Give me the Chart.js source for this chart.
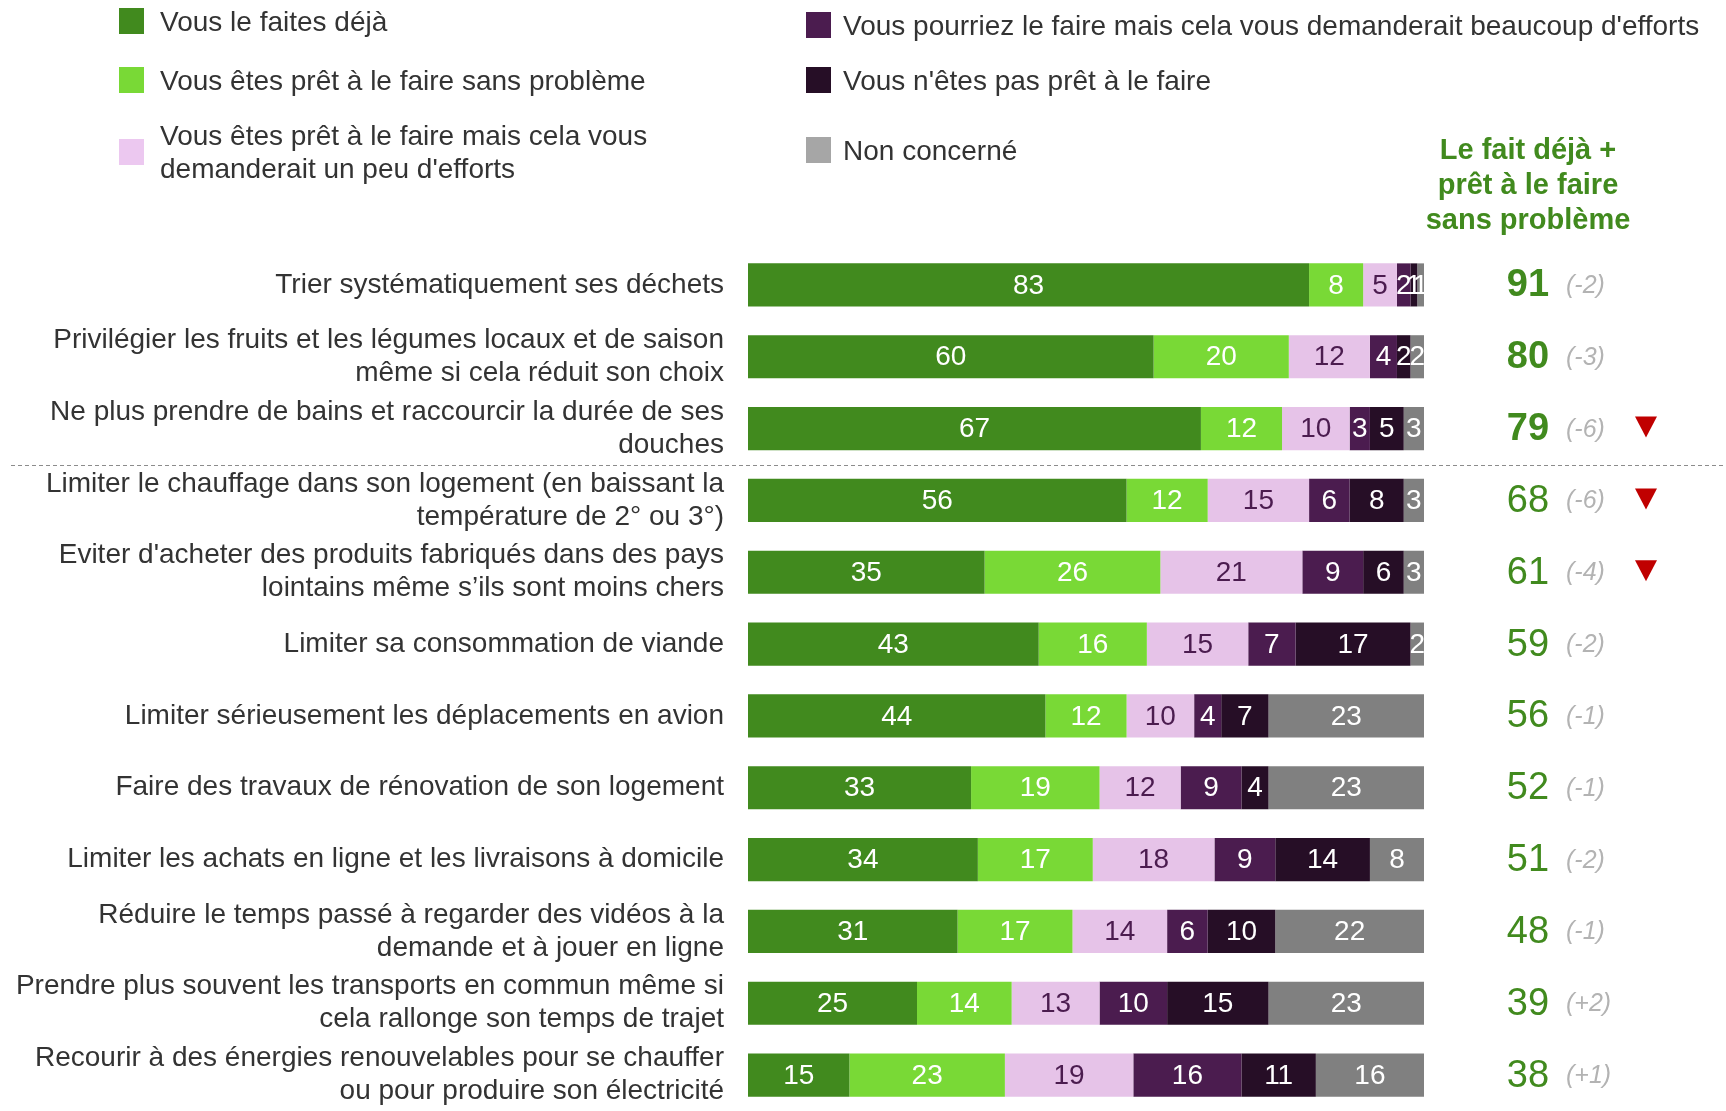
<!DOCTYPE html>
<html>
<head>
<meta charset="utf-8">
<script src="https://cdn.jsdelivr.net/npm/chart.js@4/dist/chart.umd.min.js"></script>
<style>
  html, body { margin: 0; padding: 0; background: #fff; }
  #wrap { position: relative; width: 1726px; height: 1111px; }
</style>
</head>
<body>
<div id="wrap"><canvas id="chart"></canvas></div>
<script>
// Categories (left labels)
const actions = [
    'Trier systématiquement ses déchets',
    ['Privilégier les fruits et les légumes locaux et de saison', 'même si cela réduit son choix'],
    ['Ne plus prendre de bains et raccourcir la durée de ses', 'douches'],
    ['Limiter le chauffage dans son logement (en baissant la', 'température de 2° ou 3°)'],
    ['Eviter d\'acheter des produits fabriqués dans des pays', 'lointains même s’ils sont moins chers'],
    'Limiter sa consommation de viande',
    'Limiter sérieusement les déplacements en avion',
    'Faire des travaux de rénovation de son logement',
    'Limiter les achats en ligne et les livraisons à domicile',
    ['Réduire le temps passé à regarder des vidéos à la', 'demande et à jouer en ligne'],
    ['Prendre plus souvent les transports en commun même si', 'cela rallonge son temps de trajet'],
    ['Recourir à des énergies renouvelables pour se chauffer', 'ou pour produire son électricité']
];

// Series values (%)
const dejaFait = [83, 60, 67, 56, 35, 43, 44, 33, 34, 31, 25, 15];
const sansProbleme = [8, 20, 12, 12, 26, 16, 12, 19, 17, 17, 14, 23];
const peuEfforts = [5, 12, 10, 15, 21, 15, 10, 12, 18, 14, 13, 19];
const beaucoupEfforts = [2, 4, 3, 6, 9, 7, 4, 9, 9, 6, 10, 16];
const pasPret = [1, 2, 5, 8, 6, 17, 7, 4, 14, 10, 15, 11];
const nonConcerne = [1, 2, 3, 3, 3, 2, 23, 23, 8, 22, 23, 16];

// Right column: total + evolution
const totals = [91, 80, 79, 68, 61, 59, 56, 52, 51, 48, 39, 38];
const evolutions = ['(-2)', '(-3)', '(-6)', '(-6)', '(-4)', '(-2)', '(-1)', '(-1)', '(-2)', '(-1)', '(+2)', '(+1)'];
const downArrows = [false, false, true, true, true, false, false, false, false, false, false, false];
const boldTotals = [true, true, true, false, false, false, false, false, false, false, false, false];

const seriesLabels = [
    'Vous le faites déjà',
    'Vous êtes prêt à le faire sans problème',
    'Vous êtes prêt à le faire mais cela vous demanderait un peu d\'efforts',
    'Vous pourriez le faire mais cela vous demanderait beaucoup d\'efforts',
    'Vous n\'êtes pas prêt à le faire',
    'Non concerné'
];
const seriesData = [dejaFait, sansProbleme, peuEfforts, beaucoupEfforts, pasPret, nonConcerne];
const barColors = ['#418a1e', '#79d936', '#e6c3e8', '#4b1c4f', '#260e26', '#808080'];
const swatchColors = ['#418a1e', '#79d936', '#ecc8f0', '#4b1c4f', '#260e26', '#a6a6a6'];
const valueColors = ['#ffffff', '#ffffff', '#4b1c4f', '#ffffff', '#ffffff', '#ffffff'];

const FONT = '"Liberation Sans", Arial, sans-serif';
const GREEN = '#418a1e';

// Values inside each segment
const segmentLabels = {
    id: 'segmentLabels',
    afterDatasetsDraw(chart) {
        const ctx = chart.ctx;
        ctx.save();
        ctx.font = '28px ' + FONT;
        ctx.textAlign = 'center';
        ctx.textBaseline = 'middle';
        chart.data.datasets.forEach((ds, i) => {
            const meta = chart.getDatasetMeta(i);
            meta.data.forEach((bar, j) => {
                const v = ds.data[j];
                if (!v) return;
                const p = bar.getProps(['x', 'y', 'base'], true);
                ctx.fillStyle = valueColors[i];
                ctx.fillText(String(v), (p.x + p.base) / 2, p.y + 1);
            });
        });
        ctx.restore();
    }
};

// Legend, header, totals column, separator
const extras = {
    id: 'extras',
    afterDraw(chart) {
        const ctx = chart.ctx;
        const area = chart.chartArea;
        const yScale = chart.scales.y;
        ctx.save();

        // legend
        const legendPos = [
            {x: 119, y: 21, dx: 41}, {x: 119, y: 80, dx: 41}, {x: 119, y: 152, dx: 41},
            {x: 806, y: 25, dx: 37}, {x: 806, y: 80, dx: 37}, {x: 806, y: 150, dx: 37}
        ];
        const legendLines = [
            [seriesLabels[0]], [seriesLabels[1]],
            ['Vous êtes prêt à le faire mais cela vous', 'demanderait un peu d\'efforts'],
            [seriesLabels[3]], [seriesLabels[4]], [seriesLabels[5]]
        ];
        ctx.font = '28px ' + FONT;
        ctx.textAlign = 'left';
        ctx.textBaseline = 'middle';
        legendPos.forEach((p, i) => {
            ctx.fillStyle = swatchColors[i];
            ctx.fillRect(p.x, p.y - 13, 25, 26);
            ctx.fillStyle = '#333333';
            const lines = legendLines[i];
            lines.forEach((t, k) => {
                ctx.fillText(t, p.x + p.dx, p.y + 2 + (k - (lines.length - 1) / 2) * 33);
            });
        });

        // header of right column
        const colX = area.right + 104;
        ctx.fillStyle = GREEN;
        ctx.font = 'bold 29px ' + FONT;
        ctx.textAlign = 'center';
        ['Le fait déjà +', 'prêt à le faire', 'sans problème'].forEach((t, k) => {
            ctx.fillText(t, colX, 151 + k * 35);
        });

        // totals and evolutions
        totals.forEach((v, j) => {
            const y = yScale.getPixelForValue(j);
            ctx.fillStyle = GREEN;
            ctx.font = (boldTotals[j] ? 'bold ' : '') + '38px ' + FONT;
            ctx.textAlign = 'center';
            ctx.fillText(String(v), colX, y + 1);
            ctx.fillStyle = '#b3b3b3';
            ctx.font = 'italic 25px ' + FONT;
            ctx.textAlign = 'left';
            ctx.fillText(evolutions[j], area.right + 142, y + 1);
            if (downArrows[j]) {
                ctx.fillStyle = '#c00000';
                ctx.beginPath();
                ctx.moveTo(area.right + 211, y - 12);
                ctx.lineTo(area.right + 233, y - 12);
                ctx.lineTo(area.right + 222, y + 9);
                ctx.closePath();
                ctx.fill();
            }
        });

        // dashed separator between row 3 and row 4
        const sepY = Math.round((yScale.getPixelForValue(2) + yScale.getPixelForValue(3)) / 2) + 0.5;
        ctx.strokeStyle = '#8c8c8c';
        ctx.lineWidth = 1;
        ctx.setLineDash([4, 3]);
        ctx.beginPath();
        ctx.moveTo(11, sepY);
        ctx.lineTo(chart.width, sepY);
        ctx.stroke();
        ctx.restore();
    }
};

const datasets = seriesData.map((d, i) => ({
    label: seriesLabels[i],
    data: d,
    backgroundColor: barColors[i],
    borderWidth: 0,
    barPercentage: 0.6,
    categoryPercentage: 1.0
}));

new Chart(document.getElementById('chart'), {
    type: 'bar',
    data: { labels: actions, datasets: datasets },
    options: {
        indexAxis: 'y',
        responsive: true,
        maintainAspectRatio: false,
        animation: false,
        layout: { padding: { top: 249, right: 302, bottom: 0, left: 0 } },
        plugins: {
            legend: { display: false },
            tooltip: { enabled: false }
        },
        scales: {
            x: { stacked: true, min: 0, max: 100, display: false },
            y: {
                stacked: true,
                grid: { display: false },
                border: { display: false },
                ticks: {
                    color: '#333333',
                    padding: 16,
                    font: { family: FONT, size: 28, lineHeight: 1.18 }
                },
                afterFit(scale) {
                    scale.width = 748;
                    scale.paddingTop = 0;
                    scale.paddingBottom = 0;
                }
            }
        }
    },
    plugins: [segmentLabels, extras]
});
</script>
</body>
</html>
